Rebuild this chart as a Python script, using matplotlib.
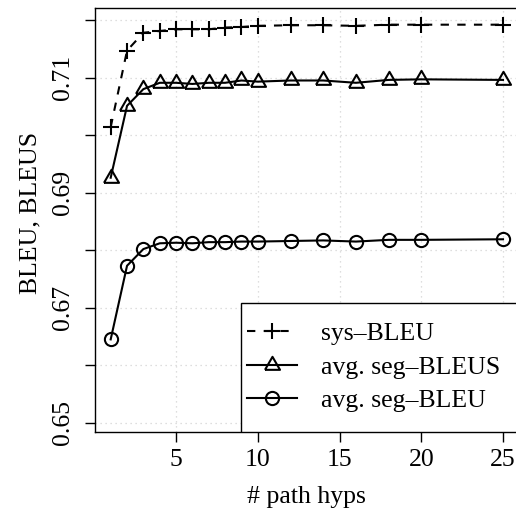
import matplotlib.pyplot as plt
from matplotlib.patches import Rectangle
from matplotlib.lines import Line2D

plt.rcParams['font.family'] = ['Liberation Serif', 'DejaVu Serif']

# number of path hypotheses
hyps = [1, 2, 3, 4, 5, 6, 7, 8, 9, 10, 12, 14, 16, 18, 20, 25]

sys_bleu = [0.7014, 0.7147, 0.7178, 0.7181, 0.7184, 0.7184, 0.7184, 0.7187,
            0.7188, 0.7190, 0.7191, 0.7191, 0.7190, 0.7192, 0.7192, 0.7192]
seg_bleus = [0.6926, 0.7051, 0.7080, 0.7091, 0.7091, 0.7089, 0.7091, 0.7091,
             0.7095, 0.7093, 0.7095, 0.7095, 0.7091, 0.7096, 0.7097, 0.7096]
seg_bleu = [0.6645, 0.6773, 0.6802, 0.6812, 0.6813, 0.6812, 0.6814, 0.6814,
            0.6815, 0.6815, 0.6816, 0.6817, 0.6815, 0.6818, 0.6818, 0.6819]

labels = ['sys\u2013BLEU', 'avg. seg\u2013BLEUS', 'avg. seg\u2013BLEU']
xticks = [5, 10, 15, 20, 25]
yticks = [0.65, 0.66, 0.67, 0.68, 0.69, 0.70, 0.71, 0.72]
ytick_labels = ['0.65', '', '0.67', '', '0.69', '', '0.71', '']

fs = 18.5
lw = 1.5
tri = [(-1, -0.577), (1, -0.577), (0, 1.155), (-1, -0.577)]

fig = plt.figure(figsize=(5.16, 5.15), dpi=100)
ax = fig.add_axes([95 / 516, 1 - 432 / 515, 423.7 / 516, 424 / 515])

ax.plot(hyps, sys_bleu, color='black', lw=lw, ls=(0, (4, 4)), marker='+',
        ms=12, mew=lw, zorder=3)
ax.plot(hyps, seg_bleus, color='black', lw=lw, marker=tri, ms=12.5, mew=lw,
        mfc='none', zorder=3)
ax.plot(hyps, seg_bleu, color='black', lw=lw, marker='o', ms=9.5, mew=lw,
        mfc='none', zorder=3)

ax.set_xlim(0.04, 25.96)
ax.set_ylim(0.6484, 0.7221)
ax.set_xticks(xticks)
ax.set_yticks(yticks)
ax.set_yticklabels(ytick_labels)
ax.grid(True, color='#d4d4d4', ls=(0, (1, 3)), lw=0.9)
ax.set_axisbelow(True)

ax.tick_params(direction='out', length=7, width=1, labelsize=fs)
ax.tick_params(axis='y', pad=8)
ax.tick_params(axis='x', pad=5)
plt.setp(ax.get_yticklabels(), rotation=90, va='center')
for s in ax.spines.values():
    s.set_linewidth(1)

ax.set_xlabel('# path hyps', fontsize=fs, va='center')
ax.xaxis.set_label_coords(0.5, -0.153)
ax.set_ylabel('BLEU, BLEUS', fontsize=fs, va='center')
ax.yaxis.set_label_coords(-0.153, 0.516)

# legend frame drawn by hand, it runs past the right edge
ax.add_patch(Rectangle((0.3446, 0), 1.0, 0.304, transform=ax.transAxes,
                       fill=True, fc='white', ec='black', lw=1, zorder=4,
                       clip_on=True))
handles = [
    Line2D([], [], color='black', lw=lw, ls=(0, (4, 4)), marker='+', ms=12, mew=lw),
    Line2D([], [], color='black', lw=lw, marker=tri, ms=12.5, mew=lw, mfc='none'),
    Line2D([], [], color='black', lw=lw, marker='o', ms=9.5, mew=lw, mfc='none'),
]
leg = ax.legend(handles, labels, loc='center left', bbox_to_anchor=(0.3587, 0.153),
                frameon=False, borderpad=0, borderaxespad=0, handlelength=1.95,
                handletextpad=0.93, labelspacing=0.4, fontsize=fs)
leg.set_zorder(5)

fig.savefig('out.png', dpi=100)
